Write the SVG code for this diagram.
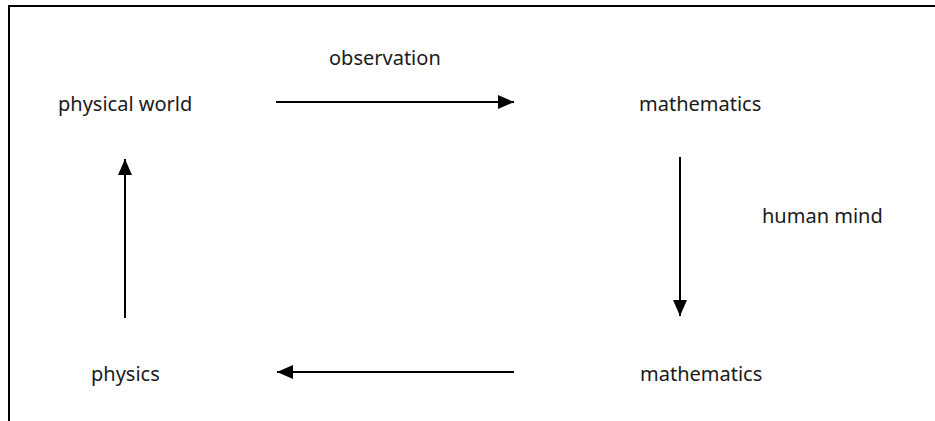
<svg xmlns="http://www.w3.org/2000/svg" width="935" height="421" viewBox="0 0 935 421">
<style>
text{font-family:"Noto Sans","Open Sans","Liberation Sans",sans-serif;font-size:20px;fill:#1a1a1a}
.c{stroke:#000;stroke-width:2;fill:none}
.b{stroke:#000;stroke-width:2;fill:none}
</style>
<defs>
<marker id="ah" viewBox="0 0 16 14" refX="16" refY="7" markerWidth="16" markerHeight="14" markerUnits="userSpaceOnUse" orient="auto">
<path d="M0,0L16,7L0,14z" fill="#000"/>
</marker>
</defs>
<path class="b" d="M9,421V6H935"/>
<g id="physical-world"><text x="58" y="111">physical world</text></g>
<g id="mathematics-top"><text x="639" y="111">mathematics</text></g>
<g id="mathematics-bottom"><text x="640" y="381">mathematics</text></g>
<g id="physics"><text x="91" y="381">physics</text></g>
<g id="connectors">
<line class="c" x1="276" y1="102" x2="514" y2="102" marker-end="url(#ah)"/>
<line class="c" x1="680" y1="157" x2="680" y2="316" marker-end="url(#ah)"/>
<line class="c" x1="514" y1="372" x2="277" y2="372" marker-end="url(#ah)"/>
<line class="c" x1="125" y1="318" x2="125" y2="159" marker-end="url(#ah)"/>
<text x="329" y="65">observation</text>
<text x="762" y="223">human mind</text>
</g>
</svg>
